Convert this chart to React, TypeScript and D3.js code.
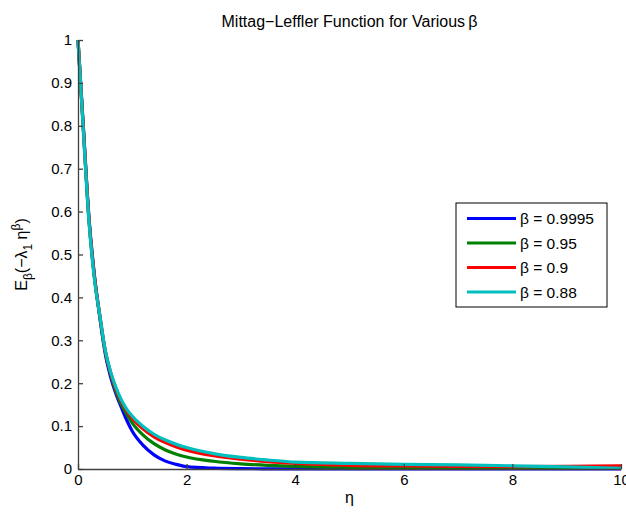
import * as d3 from "d3";
import { useRef, useEffect } from "react";

// --- data ---
const eta = [0, 0.1, 0.2, 0.3, 0.4, 0.5, 0.6, 0.7, 0.8, 0.9, 1.0, 1.2, 1.4, 1.6, 1.8, 2.0, 2.5, 3.0, 3.5, 4, 5, 6, 7, 8, 9, 10];

const beta9995 = [1, 0.795, 0.59, 0.455, 0.355, 0.27, 0.215, 0.175, 0.143, 0.113, 0.088, 0.055, 0.033, 0.019, 0.011, 0.0055, 0.002, 0.0008, 0.0004, 0.0002, 0.0001, 0, 0, 0, 0, 0];
const beta95 = [1, 0.79, 0.585, 0.45, 0.357, 0.275, 0.222, 0.18, 0.15, 0.127, 0.107, 0.079, 0.059, 0.045, 0.035, 0.028, 0.018, 0.012, 0.0085, 0.0062, 0.004, 0.003, 0.0025, 0.002, 0.0018, 0.0015];
const beta90 = [1, 0.79, 0.585, 0.45, 0.36, 0.277, 0.225, 0.186, 0.157, 0.135, 0.118, 0.093, 0.075, 0.062, 0.052, 0.044, 0.031, 0.023, 0.017, 0.013, 0.0085, 0.007, 0.006, 0.0055, 0.006, 0.0075];
const beta88 = [1, 0.785, 0.58, 0.445, 0.36, 0.278, 0.227, 0.19, 0.161, 0.139, 0.123, 0.099, 0.081, 0.068, 0.058, 0.05, 0.036, 0.027, 0.021, 0.016, 0.013, 0.011, 0.0095, 0.0075, 0.005, 0.0015];

const seriesNames = ["β = 0.9995", "β = 0.95", "β = 0.9", "β = 0.88"];
const seriesColors = ["#0000ff", "#008000", "#ff0000", "#00bfbf"];
const seriesValues = [beta9995, beta95, beta90, beta88];

const xTicks = [0, 2, 4, 6, 8, 10];
const yTicks = [0, 0.1, 0.2, 0.3, 0.4, 0.5, 0.6, 0.7, 0.8, 0.9, 1];

export default function App() {
  const ref = useRef<SVGSVGElement>(null);

  useEffect(() => {
    const width = 626;
    const height = 513;
    const marginLeft = 78;
    const marginRight = 5;
    const marginTop = 40;
    const marginBottom = 44;
    const font = "'Liberation Sans', Arial, Helvetica, sans-serif";

    const x = d3.scaleLinear().domain([0, 10]).range([marginLeft, width - marginRight]);
    const y = d3.scaleLinear().domain([0, 1]).range([height - marginBottom, marginTop]);

    const svg = d3.select(ref.current)
      .attr("width", width)
      .attr("height", height)
      .attr("viewBox", `0 0 ${width} ${height}`)
      .style("position", "absolute")
      .style("left", "0px")
      .style("top", "0px")
      .style("font-family", font);

    svg.selectAll("*").remove();

    svg.append("rect").attr("width", width).attr("height", height).attr("fill", "#fff");

    // lines
    const line = d3.line<number>()
      .x((_, i) => x(eta[i]))
      .y(d => y(d))
      .curve(d3.curveMonotoneX);

    svg.append("g")
      .selectAll("path")
      .data(seriesValues)
      .join("path")
        .attr("d", d => line(d))
        .attr("fill", "none")
        .attr("stroke", (_, i) => seriesColors[i])
        .attr("stroke-width", 3.2)
        .attr("stroke-linejoin", "round");

    // axes (MATLAB style, ticks inward, no box)
    const axisColor = "#404040";

    svg.append("g")
      .attr("transform", `translate(0,${y(0)})`)
      .call(d3.axisBottom(x).tickValues(xTicks).tickSizeInner(-5).tickSizeOuter(0).tickPadding(5).tickFormat(d3.format("d")))
      .call(g => g.select(".domain").attr("stroke", axisColor).attr("stroke-width", 1.3))
      .call(g => g.selectAll(".tick line").attr("stroke", axisColor).attr("stroke-width", 1.3))
      .call(g => g.selectAll(".tick text")
        .attr("fill", "#000")
        .attr("font-size", 15)
        .attr("font-family", font));

    svg.append("g")
      .attr("transform", `translate(${x(0)},0)`)
      .call(d3.axisLeft(y).tickValues(yTicks).tickSizeInner(-5).tickSizeOuter(0).tickPadding(6).tickFormat(d => String(+d)))
      .call(g => g.select(".domain").attr("stroke", axisColor).attr("stroke-width", 1.3))
      .call(g => g.selectAll(".tick line").attr("stroke", axisColor).attr("stroke-width", 1.3))
      .call(g => g.selectAll(".tick text")
        .attr("fill", "#000")
        .attr("font-size", 15)
        .attr("font-family", font));

    // title
    svg.append("text")
      .attr("x", (x(0) + x(10)) / 2)
      .attr("y", 27)
      .attr("text-anchor", "middle")
      .attr("font-size", 16)
      .attr("fill", "#000")
      .text("Mittag\u2212Leffler Function for Various\u2009β");

    // x label
    svg.append("text")
      .attr("x", (x(0) + x(10)) / 2)
      .attr("y", 503)
      .attr("text-anchor", "middle")
      .attr("font-size", 16)
      .attr("fill", "#000")
      .text("η");

    // y label with sub/superscripts
    const yl = svg.append("text")
      .attr("transform", `translate(27,${(y(0) + y(1)) / 2}) rotate(-90)`)
      .attr("text-anchor", "middle")
      .attr("font-size", 16)
      .attr("fill", "#000");
    yl.append("tspan").text("E");
    yl.append("tspan").attr("font-size", 12).attr("dy", 5).text("β");
    yl.append("tspan").attr("dy", -5).text("(\u2212λ");
    yl.append("tspan").attr("font-size", 12).attr("dy", 5).text("1");
    yl.append("tspan").attr("dy", -5).text(" η");
    yl.append("tspan").attr("font-size", 12).attr("dy", -7).text("β");
    yl.append("tspan").attr("dy", 7).text(")");

    // legend
    const legend = svg.append("g").attr("transform", "translate(456,203)");
    legend.append("rect")
      .attr("width", 151)
      .attr("height", 104)
      .attr("fill", "#fff")
      .attr("stroke", "#000")
      .attr("stroke-width", 1);

    const rowY = d3.scalePoint<number>().domain(d3.range(seriesNames.length)).range([15.5, 89]);

    const rows = legend.selectAll("g.row")
      .data(seriesNames)
      .join("g")
        .attr("class", "row")
        .attr("transform", (_, i) => `translate(0,${rowY(i)})`);

    rows.append("line")
      .attr("x1", 11)
      .attr("x2", 60)
      .attr("stroke", (_, i) => seriesColors[i])
      .attr("stroke-width", 3);

    rows.append("text")
      .attr("x", 64)
      .attr("dy", "0.36em")
      .attr("font-size", 15.5)
      .attr("fill", "#000")
      .text(d => d);
  }, []);

  return <svg ref={ref}></svg>;
}
